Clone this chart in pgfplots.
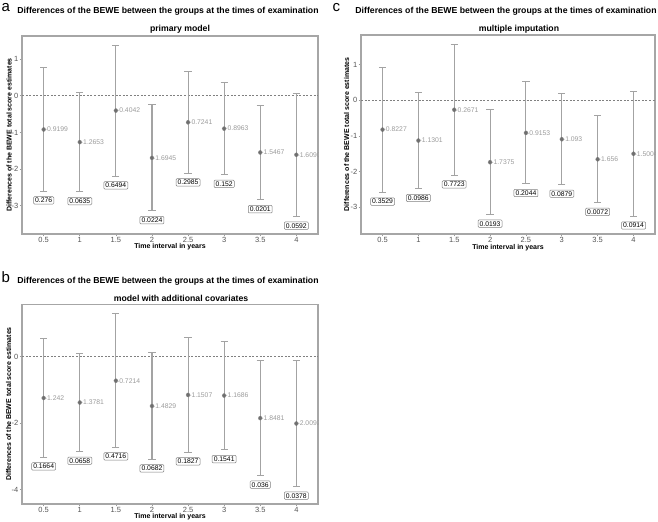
\documentclass[border=0pt]{standalone}
\usepackage{fontspec}
\setmainfont{Liberation Sans}
\usepackage{pgfplots}
\usepackage{pgfplotstable}
\pgfplotsset{compat=1.18}

\definecolor{errc}{HTML}{A3A3A3}
\definecolor{ptc}{HTML}{6E6E6E}
\definecolor{vlc}{HTML}{9A9A9A}
\definecolor{bordc}{HTML}{A6A6A6}
\definecolor{tickc}{HTML}{9A9A9A}
\definecolor{tlc}{HTML}{555555}
\definecolor{zlc}{HTML}{808080}
\definecolor{pbc}{HTML}{7F7F7F}

\pgfplotstableread{
x est lo hi p lab
0.5 -0.9199 -2.60 0.764 0.276 -0.9199
1 -1.2653 -2.62 0.09 0.0635 -1.2653
1.5 -0.4042 -2.19 1.38 0.6494 -0.4042
2 -1.6945 -3.14 -0.245 0.0224 -1.6945
2.5 -0.7241 -2.11 0.66 0.2985 -0.7241
3 -0.8963 -2.15 0.355 0.152 -0.8963
3.5 -1.5467 -2.84 -0.255 0.0201 -1.5467
4 -1.6090 -3.29 0.073 0.0592 -1.6090
}\dataA

\pgfplotstableread{
x est lo hi p lab
0.5 -0.8227 -2.58 0.93 0.3529 -0.8227
1 -1.1301 -2.48 0.225 0.0986 -1.1301
1.5 -0.2671 -2.10 1.565 0.7723 -0.2671
2 -1.7375 -3.20 -0.27 0.0193 -1.7375
2.5 -0.9153 -2.34 0.515 0.2044 -0.9153
3 -1.093 -2.36 0.178 0.0879 -1.093
3.5 -1.656 -2.87 -0.44 0.0072 -1.656
4 -1.5004 -3.25 0.25 0.0914 -1.5004
}\dataC

\pgfplotstableread{
x est lo hi p lab
0.5 -1.242 -3.02 0.54 0.1664 -1.242
1 -1.3781 -2.85 0.10 0.0658 -1.3781
1.5 -0.7214 -2.72 1.29 0.4716 -0.7214
2 -1.4829 -3.08 0.12 0.0682 -1.4829
2.5 -1.1507 -2.87 0.58 0.1827 -1.1507
3 -1.1686 -2.80 0.46 0.1541 -1.1686
3.5 -1.8481 -3.57 -0.12 0.036 -1.8481
4 -2.0092 -3.90 -0.12 0.0378 -2.0092
}\dataB

\pgfplotsset{
  panel/.style={
    scale only axis, anchor=south west,
    xmin=0.2, xmax=4.3,
    xtick={0.5,1,1.5,2,2.5,3,3.5,4},
    xticklabels={0.5,1,1.5,2,2.5,3,3.5,4},
    axis line style={draw=bordc, line width=1.1bp},
    tick style={draw=tickc, line width=0.6bp},
    tick align=outside, major tick length=2.5bp,
    xtick pos=bottom, ytick pos=left,
    ticklabel style={font=\fontsize{7.5bp}{9bp}\selectfont, text=tlc},
    xticklabel style={inner sep=1bp},
    yticklabel style={inner sep=1bp},
    clip marker paths=true,
  },
  vlab/.style={draw=none, mark=none, nodes near coords, point meta=explicit symbolic,
    nodes near coords style={anchor=west, font=\fontsize{6.8bp}{8bp}\selectfont, text=vlc, inner sep=0pt, xshift=1bp}},
  plab/.style={draw=none, mark=none, nodes near coords, point meta=explicit symbolic,
    nodes near coords style={anchor=center, yshift=-9.3bp, font=\fontsize{6.8bp}{8bp}\selectfont, text=black,
      draw=pbc, fill=white, rounded corners=1bp, inner xsep=1.6bp, inner ysep=1.3bp, line width=0.5bp}},
  ebar/.style={only marks, color=errc, mark=none,
    error bars/.cd, y dir=both, y explicit,
    error bar style={draw=errc, line width=1.1bp},
    error mark=-,
    error mark options={draw=errc, line width=1bp, mark size=3.6bp, rotate=90}},
  pts/.style={only marks, mark=diamond*, mark size=2.1bp, mark options={fill=ptc, draw=ptc, line width=0.3bp}},
  zline/.style={draw=zlc, line width=0.6bp, dash pattern=on 2bp off 1.6bp},
}

\newcommand{\tfont}{\fontsize{8.7bp}{10bp}\selectfont\bfseries}
\newcommand{\lfont}{\fontsize{7bp}{8bp}\selectfont\bfseries}

\begin{document}
\begin{tikzpicture}[x=1bp,y=1bp]
\useasboundingbox (0,0) rectangle (658,522);

% ---------- panel a ----------
\begin{axis}[panel, at={(22bp,288bp)}, width=296bp, height=198bp,
  ymin=-3.77, ymax=1.63, ytick={-3,-2,-1,0,1}, yticklabels={-3,-2,-1,0,1}]
\addplot[zline] coordinates {(0.2,0) (4.3,0)};
\addplot[vlab] table[x=x, y=est, meta=lab] {\dataA};
\addplot[ebar] table[x=x, y=est, y error plus expr=\thisrow{hi}-\thisrow{est}, y error minus expr=\thisrow{est}-\thisrow{lo}] {\dataA};
\addplot[pts] table[x=x, y=est] {\dataA};
\addplot[plab] table[x=x, y=lo, meta=p] {\dataA};
\end{axis}
\node[anchor=base west, font=\fontsize{15bp}{16bp}\selectfont, inner sep=0] at (1.5,510) {a};
\node[anchor=base, font=\tfont, inner sep=0] at (168,508) {Differences of the BEWE between the groups at the times of examination};
\node[anchor=base, font=\tfont, inner sep=0] at (180,490) {primary model};
\node[anchor=base, font=\lfont, inner sep=0] at (170,273) {Time interval in years};
\node[rotate=90, font=\lfont, inner sep=0] at (9,387) {Differences of the BEWE total score estimates};

% ---------- panel c ----------
\begin{axis}[panel, at={(361bp,288bp)}, width=294bp, height=199bp,
  ymin=-3.75, ymax=1.83, ytick={-3,-2,-1,0,1}, yticklabels={-3,-2,-1,0,1}]
\addplot[zline] coordinates {(0.2,0) (4.3,0)};
\addplot[vlab] table[x=x, y=est, meta=lab] {\dataC};
\addplot[ebar] table[x=x, y=est, y error plus expr=\thisrow{hi}-\thisrow{est}, y error minus expr=\thisrow{est}-\thisrow{lo}] {\dataC};
\addplot[pts] table[x=x, y=est] {\dataC};
\addplot[plab] table[x=x, y=lo, meta=p] {\dataC};
\end{axis}
\node[anchor=base west, font=\fontsize{15bp}{16bp}\selectfont, inner sep=0] at (332.5,510) {c};
\node[anchor=base, font=\tfont, inner sep=0] at (506,508) {Differences of the BEWE between the groups at the times of examination};
\node[anchor=base, font=\tfont, inner sep=0] at (519,490) {multiple imputation};
\node[anchor=base, font=\lfont, inner sep=0] at (508,272) {Time interval in years};
\node[rotate=90, font=\lfont, inner sep=0] at (346.5,387.5) {Differences of the BEWE total score estimates};

% ---------- panel b ----------
\begin{axis}[panel, at={(22bp,18bp)}, width=296bp, height=199.5bp,
  ymin=-4.43, ymax=1.57, ytick={-4,-2,0}, yticklabels={-4,-2,0}]
\addplot[zline] coordinates {(0.2,0) (4.3,0)};
\addplot[vlab] table[x=x, y=est, meta=lab] {\dataB};
\addplot[ebar] table[x=x, y=est, y error plus expr=\thisrow{hi}-\thisrow{est}, y error minus expr=\thisrow{est}-\thisrow{lo}] {\dataB};
\addplot[pts] table[x=x, y=est] {\dataB};
\addplot[plab] table[x=x, y=lo, meta=p] {\dataB};
\end{axis}
\node[anchor=base west, font=\fontsize{15bp}{16bp}\selectfont, inner sep=0] at (1.5,239) {b};
\node[anchor=base, font=\tfont, inner sep=0] at (168,238) {Differences of the BEWE between the groups at the times of examination};
\node[anchor=base, font=\tfont, inner sep=0] at (181,220) {model with additional covariates};
\node[anchor=base, font=\lfont, inner sep=0] at (170,3) {Time interval in years};
\node[rotate=90, font=\lfont, inner sep=0] at (8.5,118) {Differences of the BEWE total score estimates};
\end{tikzpicture}
\end{document}
